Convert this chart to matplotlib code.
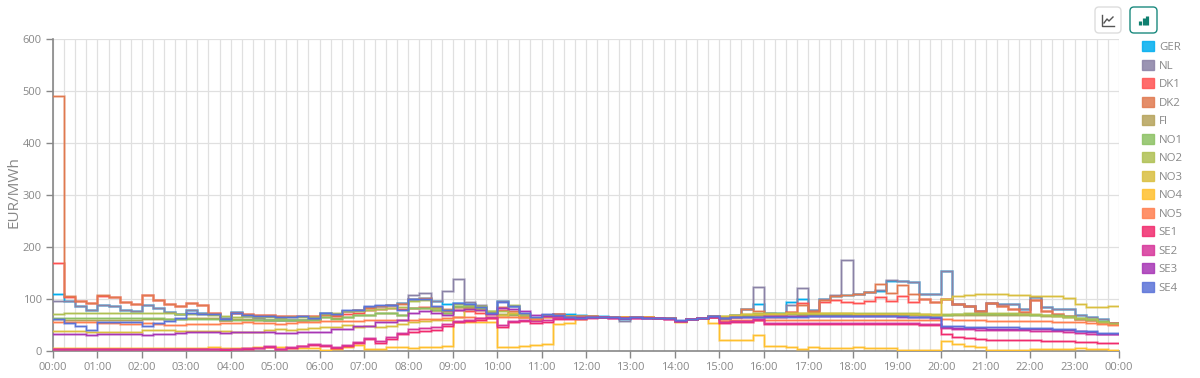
import numpy as np
import matplotlib
matplotlib.use("Agg")
import matplotlib.pyplot as plt
from matplotlib.patches import Patch, FancyBboxPatch
import matplotlib.patheffects as pe

plt.rcParams['font.family'] = ['Open Sans', 'DejaVu Sans']

names = ["GER","NL","DK1","DK2","FI","NO1","NO2","NO3","NO4","NO5","SE1","SE2","SE3","SE4"]
colors = ["#00AEEF","#8A82A6","#FF5252","#E0794F","#B5A35A","#8CC163","#AFC052","#D9BF3F","#FFC02E","#FF7F50","#F02B6D","#D6369A","#A736B5","#5A72D8"]

GER = [110,97,87,78,89,87,79,76,88,83,75,72,79,74,72,63,75,68,64,60,60,59,59,62,
       74,72,77,79,84,87,89,92,100,102,96,90,92,90,84,75,96,86,68,62,70,72,72,70,
       68,67,66,62,65,65,64,63,57,62,64,67,65,70,80,90,74,74,95,100,78,100,106,108,
       109,113,116,134,134,132,109,109,154,90,87,77,93,90,91,81,103,85,80,80,69,65,61,54]
NL = [97,97,87,78,89,87,79,76,88,83,75,72,79,74,72,63,75,68,64,60,60,59,59,62,
      74,72,77,79,84,87,89,92,108,112,96,115,139,94,88,75,96,86,68,62,70,72,68,67,
      67,66,65,58,65,65,64,63,57,62,64,67,65,70,80,123,74,72,88,121,79,100,108,175,
      110,113,117,136,135,133,109,109,154,90,87,77,93,90,91,81,103,85,80,80,69,65,61,54]
DK1 = [170,104,97,93,105,104,95,91,108,98,90,86,93,88,74,60,74,71,69,69,68,68,68,67,
       70,68,72,74,78,80,82,80,82,84,78,76,78,76,74,72,78,74,66,62,70,72,68,67,
       67,66,66,65,65,65,64,64,58,62,64,66,62,66,70,70,66,66,75,92,75,95,98,95,
       92,96,104,96,105,94,100,94,100,90,87,77,93,87,80,75,98,77,72,67,62,59,55,53]
DK2 = [490,106,97,93,107,104,95,91,108,98,90,86,93,88,74,60,74,71,69,69,68,68,68,67,
       72,70,76,78,82,87,88,90,100,102,84,80,85,84,80,74,85,76,68,62,70,72,68,67,
       67,66,66,65,65,65,64,64,58,62,64,66,64,68,80,76,72,72,75,88,76,98,106,108,
       109,113,128,112,126,110,100,94,100,90,87,77,93,87,80,75,98,77,72,67,62,59,55,53]
FI = [62,60,60,59,60,60,60,59,62,62,61,62,64,64,64,60,62,62,60,60,60,60,60,60,
      66,63,66,69,70,74,74,70,82,82,78,74,84,82,80,74,72,70,66,62,68,68,67,67,
      67,66,66,65,65,65,64,64,58,62,64,66,62,66,68,69,68,68,68,69,69,69,69,69,
      69,69,69,69,69,69,69,69,70,70,70,70,70,70,70,69,69,68,67,65,62,60,56,54]
NO1 = [64,64,64,63,63,63,63,63,63,63,62,62,62,62,62,60,60,60,60,60,59,59,59,60,
       66,62,66,69,69,74,74,69,82,82,79,74,86,86,82,76,69,72,68,64,67,67,66,66,
       66,66,65,65,65,65,64,63,58,62,64,67,65,68,70,71,71,71,72,72,72,72,72,72,
       72,72,72,72,71,71,70,70,70,71,72,72,72,72,72,71,70,70,69,67,63,62,58,52]
NO2 = [72,74,74,74,74,74,74,74,74,73,73,72,72,72,70,68,66,67,66,66,64,65,65,66,
       72,74,76,77,79,80,82,85,97,98,82,79,90,89,86,76,76,89,72,64,68,68,67,66,
       66,66,65,65,65,65,64,63,58,62,64,67,68,70,72,73,73,73,74,74,74,74,74,74,
       74,74,74,73,73,73,72,71,71,72,74,74,74,74,74,72,71,70,68,65,64,61,56,52]
NO3 = [38,38,38,37,37,37,37,37,40,40,40,39,39,39,38,38,37,37,37,40,42,41,42,45,
       47,46,50,47,48,47,48,52,56,58,60,60,65,80,78,65,70,74,66,62,66,66,66,66,
       66,66,65,65,65,65,64,63,58,62,64,67,68,70,71,72,72,72,73,73,73,73,73,73,
       72,72,72,72,71,71,71,70,100,105,107,109,109,109,108,108,106,106,105,102,90,85,85,87]
NO4 = [5,5,5,5,5,5,5,5,5,5,6,6,6,6,7,6,6,6,7,8,8,6,6,5,
       1,3,7,11,3,3,7,8,5,7,7,9,56,56,56,56,7,7,10,11,13,51,54,62,
       66,66,65,65,65,65,64,63,55,62,64,53,21,22,22,30,10,10,7,4,7,6,6,6,
       7,6,6,5,2,2,1,1,19,13,10,7,1,1,1,1,3,3,3,3,5,4,3,2]
NO5 = [56,55,56,55,53,53,52,51,53,51,50,50,52,51,52,53,53,55,53,53,51,53,55,55,
       57,57,57,58,59,59,59,60,60,62,62,64,66,66,64,64,66,66,65,62,66,66,66,66,
       66,66,65,65,65,65,64,63,58,62,64,66,58,60,60,60,60,60,60,60,60,60,60,60,
       60,60,60,60,60,60,60,60,61,59,59,59,58,58,58,58,58,57,56,55,55,54,52,50]
SE1 = [3,3,3,3,3,3,3,3,3,3,3,3,3,3,3,2,3,4,5,8,3,6,9,12,
       10,5,10,16,23,16,23,32,36,39,41,49,55,57,60,64,46,55,57,53,56,62,62,62,
       64,65,64,64,64,64,63,62,58,61,63,65,54,56,56,60,52,52,52,52,51,51,51,52,
       52,52,52,52,52,52,50,50,32,27,25,24,21,21,21,21,21,20,20,19,18,17,16,15]
SE2 = [4,4,4,4,4,4,4,4,4,4,4,4,4,4,4,3,4,5,6,9,4,7,10,13,
       12,7,11,18,25,19,27,35,42,44,46,52,58,60,64,66,50,57,60,57,60,64,64,64,
       65,65,64,64,64,64,63,62,58,61,63,65,55,58,58,62,54,54,54,54,53,53,53,54,
       54,54,54,54,54,54,52,52,45,42,42,41,41,41,40,40,39,39,38,37,35,33,32,32]
SE3 = [33,33,33,30,33,33,33,33,31,32,33,35,37,36,36,34,37,37,37,37,35,35,36,37,
       36,43,43,49,49,56,56,59,74,76,74,69,78,80,79,72,82,80,76,70,68,68,66,65,
       66,66,65,64,65,64,63,63,58,62,64,67,63,66,66,66,67,67,67,67,67,67,67,67,
       67,67,67,67,66,66,65,64,47,44,44,44,43,43,43,43,42,42,41,40,39,36,33,32]
SE4 = [62,53,48,41,56,55,55,56,49,53,58,64,74,72,72,62,74,69,68,67,66,66,67,63,
       74,72,78,79,86,88,88,79,100,100,86,78,93,90,84,74,95,86,74,66,72,69,66,64,
       66,66,65,64,65,64,64,63,59,62,64,67,64,66,66,66,65,66,66,66,67,67,67,67,
       67,67,67,67,67,66,65,65,49,49,47,46,46,46,46,45,45,44,43,42,39,38,35,35]
series = [GER,NL,DK1,DK2,FI,NO1,NO2,NO3,NO4,NO5,SE1,SE2,SE3,SE4]

hour_labels = [f"{h:02d}:00" for h in range(24)] + ["00:00"]
y_ticks = [0,100,200,300,400,500,600]

W, H = 1200, 378
fig = plt.figure(figsize=(W/100, H/100), dpi=100, facecolor="white")
L, R, T, B = 53, 1119, 39, 351
ax = fig.add_axes([L/W, 1-B/H, (R-L)/W, (B-T)/H])
for v, c, n in zip(series, colors, names):
    y = np.r_[v, v[-1]]
    x = np.arange(len(y))
    ax.step(x, y, where="post", color=c, lw=1.05, label=n, solid_joinstyle="miter", zorder=3,
            path_effects=[pe.Stroke(linewidth=2.1, foreground=c, alpha=0.25), pe.Normal()])
ax.set_xlim(0, 96)
ax.set_ylim(0, 600)
ax.set_xticks(np.arange(0, 97, 4), hour_labels)
ax.set_xticks(np.arange(0, 97), minor=True)
ax.set_yticks(y_ticks)
ax.grid(True, which="both", color="#e0e0e0", lw=0.9, zorder=0)
ax.set_axisbelow(True)
for s in ("top", "right"):
    ax.spines[s].set_visible(False)
for s in ("left", "bottom"):
    ax.spines[s].set_color("#888888")
    ax.spines[s].set_linewidth(1.2)
ax.tick_params(which="major", length=5, color="#888888", labelcolor="#888888", labelsize=8, pad=3, width=1)
ax.tick_params(which="minor", length=0)
fig.text(14/W, 1-192/H, "EUR/MWh", rotation=90, ha="center", va="center", color="#888888", fontsize=11)

handles = [Patch(facecolor=c, edgecolor=c, alpha=0.85) for c in colors]
fig.legend(handles, names, loc="upper left", bbox_to_anchor=(1140/W, 1-39/H), frameon=False,
           fontsize=8.2, labelcolor="#888888", handlelength=1.0, handleheight=1.0, handletextpad=0.45,
           labelspacing=0.57, borderpad=0.2, borderaxespad=0)

# toolbar buttons
bg = fig.add_axes([0, 0, 1, 1], zorder=5)
bg.set_xlim(0, W); bg.set_ylim(H, 0); bg.axis("off"); bg.patch.set_alpha(0)
bg.add_patch(FancyBboxPatch((1095, 7), 26, 26, boxstyle="round,pad=0,rounding_size=4", fc="white", ec="#dddddd", lw=1))
bg.add_patch(FancyBboxPatch((1130, 7), 27, 26, boxstyle="round,pad=0,rounding_size=4", fc="white", ec="#1b8a7f", lw=1))
bg.plot([1102, 1102, 1114], [15, 26, 26], color="#555555", lw=1)
bg.plot([1104, 1107, 1109, 1113], [23, 19, 21, 17], color="#555555", lw=1)
for bx, bt in zip([1139.5, 1143.5, 1147], [21, 18, 15.5]):
    bg.plot([bx, bx], [bt, 25], color="#0e7f6f", lw=2.3, solid_capstyle="butt")

fig.savefig("out.png", dpi=100)
